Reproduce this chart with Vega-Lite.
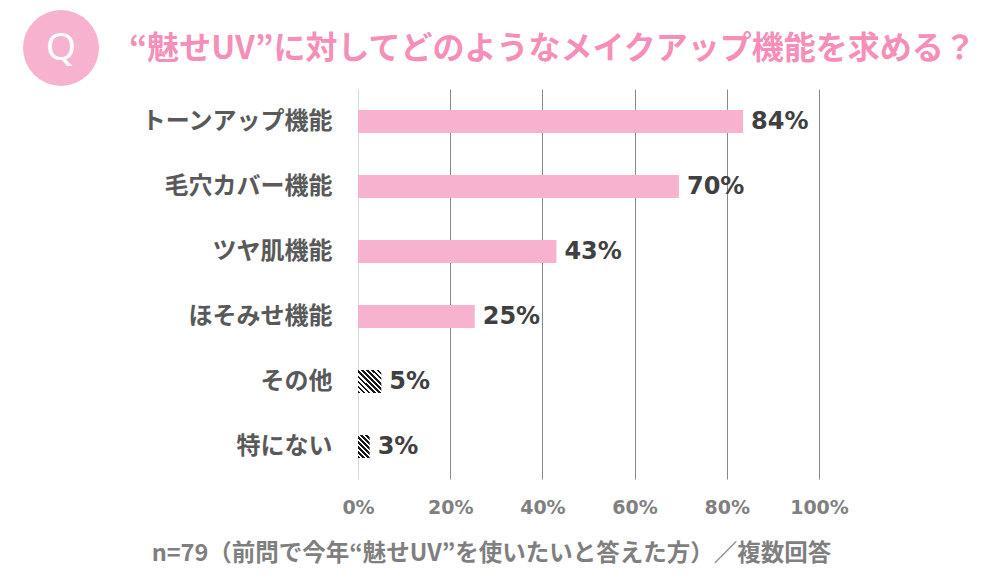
{
  "$schema": "https://vega.github.io/schema/vega-lite/v6.json",
  "description": "Requested make-up functions for 'showing UV' products, n=79",
  "width": 461,
  "height": 390,
  "autosize": "none",
  "padding": {"left": 358, "top": 89, "right": 171, "bottom": 101},
  "background": "#ffffff",
  "config": {"font": "Noto Sans CJK JP", "view": {"stroke": null}},
  "title": {
    "text": "“魅せUV”に対してどのようなメイクアップ機能を求める？",
    "anchor": "start",
    "frame": "group",
    "dx": -229,
    "offset": -56,
    "fontSize": 32,
    "fontWeight": "bold",
    "color": "#F58EB9"
  },
  "data": {
    "values": [
      {"item": "トーンアップ機能", "share": 0.8354, "grp": "main"},
      {"item": "毛穴カバー機能", "share": 0.6962, "grp": "main"},
      {"item": "ツヤ肌機能", "share": 0.4304, "grp": "main"},
      {"item": "ほそみせ機能", "share": 0.2532, "grp": "main"},
      {"item": "その他", "share": 0.0506, "grp": "other"},
      {"item": "特にない", "share": 0.0253, "grp": "other"}
    ]
  },
  "encoding": {
    "y": {
      "field": "item",
      "type": "nominal",
      "sort": null,
      "scale": {
        "domain": ["トーンアップ機能", "毛穴カバー機能", "ツヤ肌機能", "ほそみせ機能", "その他", "特にない"],
        "paddingInner": 0.646,
        "paddingOuter": 0.323
      },
      "axis": {
        "title": null,
        "ticks": false,
        "domain": false,
        "labelFontSize": 24,
        "labelFontWeight": "bold",
        "labelColor": "#595959",
        "labelPadding": 26,
        "labelLimit": 300
      }
    },
    "x": {
      "field": "share",
      "type": "quantitative",
      "scale": {"domain": [0, 1]},
      "axis": {
        "values": [0, 0.2, 0.4, 0.6, 0.8, 1],
        "format": ".0%",
        "grid": true,
        "gridColor": {"condition": {"test": "datum.value === 0", "value": "#d9d9d9"}, "value": "#898989"},
        "ticks": false,
        "domain": false,
        "labelFlush": false,
        "labelOverlap": false,
        "labelFont": "DejaVu Sans",
        "labelFontSize": 19,
        "labelFontWeight": "bold",
        "labelColor": "#808080",
        "labelPadding": 19,
        "title": "n=79（前問で今年“魅せUV”を使いたいと答えた方）／複数回答",
        "titleFontSize": 23.5,
        "titleFontWeight": "bold",
        "titleColor": "#7f7f7f",
        "titleX": 133,
        "titleY": 74,
        "titleAlign": "center",
        "titleBaseline": "middle"
      }
    }
  },
  "layer": [
    {
      "transform": [{"filter": "datum.grp === 'main'"}],
      "mark": {"type": "bar"},
      "encoding": {
        "color": {
          "field": "grp",
          "type": "nominal",
          "scale": {"range": ["#f6b2ce"]},
          "legend": {
            "orient": "none",
            "legendX": -335,
            "legendY": -79,
            "values": ["main"],
            "title": null,
            "padding": 0,
            "symbolType": "circle",
            "symbolSize": 5776,
            "symbolStrokeWidth": 0,
            "labelExpr": "'Q'",
            "labelFont": "Noto Sans",
            "labelFontSize": 39,
            "labelFontWeight": "normal",
            "labelColor": "#ffffff",
            "labelAlign": "center",
            "labelOffset": -38,
            "encode": {"symbols": {"update": {"fill": {"value": "#F895BE"}, "opacity": {"value": 1}}}}
          }
        }
      }
    },
    {
      "transform": [{"filter": "datum.item === 'その他'"}],
      "mark": {
        "type": "bar",
        "color": {
          "gradient": "linear",
          "x1": 0, "y1": 1, "x2": 1, "y2": 0,
          "stops": [
            {"offset": 0, "color": "#1a1a1a"}, {"offset": 0.0556, "color": "#1a1a1a"}, {"offset": 0.0556, "color": "#ffffff"}, {"offset": 0.1111, "color": "#ffffff"},
            {"offset": 0.1111, "color": "#1a1a1a"}, {"offset": 0.1667, "color": "#1a1a1a"}, {"offset": 0.1667, "color": "#ffffff"}, {"offset": 0.2222, "color": "#ffffff"},
            {"offset": 0.2222, "color": "#1a1a1a"}, {"offset": 0.2778, "color": "#1a1a1a"}, {"offset": 0.2778, "color": "#ffffff"}, {"offset": 0.3333, "color": "#ffffff"},
            {"offset": 0.3333, "color": "#1a1a1a"}, {"offset": 0.3889, "color": "#1a1a1a"}, {"offset": 0.3889, "color": "#ffffff"}, {"offset": 0.4444, "color": "#ffffff"},
            {"offset": 0.4444, "color": "#1a1a1a"}, {"offset": 0.5, "color": "#1a1a1a"}, {"offset": 0.5, "color": "#ffffff"}, {"offset": 0.5556, "color": "#ffffff"},
            {"offset": 0.5556, "color": "#1a1a1a"}, {"offset": 0.6111, "color": "#1a1a1a"}, {"offset": 0.6111, "color": "#ffffff"}, {"offset": 0.6667, "color": "#ffffff"},
            {"offset": 0.6667, "color": "#1a1a1a"}, {"offset": 0.7222, "color": "#1a1a1a"}, {"offset": 0.7222, "color": "#ffffff"}, {"offset": 0.7778, "color": "#ffffff"},
            {"offset": 0.7778, "color": "#1a1a1a"}, {"offset": 0.8333, "color": "#1a1a1a"}, {"offset": 0.8333, "color": "#ffffff"}, {"offset": 0.8889, "color": "#ffffff"},
            {"offset": 0.8889, "color": "#1a1a1a"}, {"offset": 0.9444, "color": "#1a1a1a"}, {"offset": 0.9444, "color": "#ffffff"}, {"offset": 1, "color": "#ffffff"}
          ]
        }
      },
      "encoding": {}
    },
    {
      "transform": [{"filter": "datum.item === '特にない'"}],
      "mark": {
        "type": "bar",
        "color": {
          "gradient": "linear",
          "x1": 0, "y1": 1, "x2": 0.608, "y2": -0.199,
          "stops": [
            {"offset": 0, "color": "#1a1a1a"}, {"offset": 0.0714, "color": "#1a1a1a"}, {"offset": 0.0714, "color": "#ffffff"}, {"offset": 0.1429, "color": "#ffffff"},
            {"offset": 0.1429, "color": "#1a1a1a"}, {"offset": 0.2143, "color": "#1a1a1a"}, {"offset": 0.2143, "color": "#ffffff"}, {"offset": 0.2857, "color": "#ffffff"},
            {"offset": 0.2857, "color": "#1a1a1a"}, {"offset": 0.3571, "color": "#1a1a1a"}, {"offset": 0.3571, "color": "#ffffff"}, {"offset": 0.4286, "color": "#ffffff"},
            {"offset": 0.4286, "color": "#1a1a1a"}, {"offset": 0.5, "color": "#1a1a1a"}, {"offset": 0.5, "color": "#ffffff"}, {"offset": 0.5714, "color": "#ffffff"},
            {"offset": 0.5714, "color": "#1a1a1a"}, {"offset": 0.6429, "color": "#1a1a1a"}, {"offset": 0.6429, "color": "#ffffff"}, {"offset": 0.7143, "color": "#ffffff"},
            {"offset": 0.7143, "color": "#1a1a1a"}, {"offset": 0.7857, "color": "#1a1a1a"}, {"offset": 0.7857, "color": "#ffffff"}, {"offset": 0.8571, "color": "#ffffff"},
            {"offset": 0.8571, "color": "#1a1a1a"}, {"offset": 0.9286, "color": "#1a1a1a"}, {"offset": 0.9286, "color": "#ffffff"}, {"offset": 1, "color": "#ffffff"}
          ]
        }
      },
      "encoding": {}
    },
    {
      "mark": {
        "type": "text",
        "align": "left",
        "baseline": "middle",
        "dx": 8,
        "font": "DejaVu Sans",
        "fontSize": 24,
        "fontWeight": "bold",
        "color": "#404040"
      },
      "encoding": {
        "text": {"field": "share", "type": "quantitative", "format": ".0%"}
      }
    }
  ]
}
